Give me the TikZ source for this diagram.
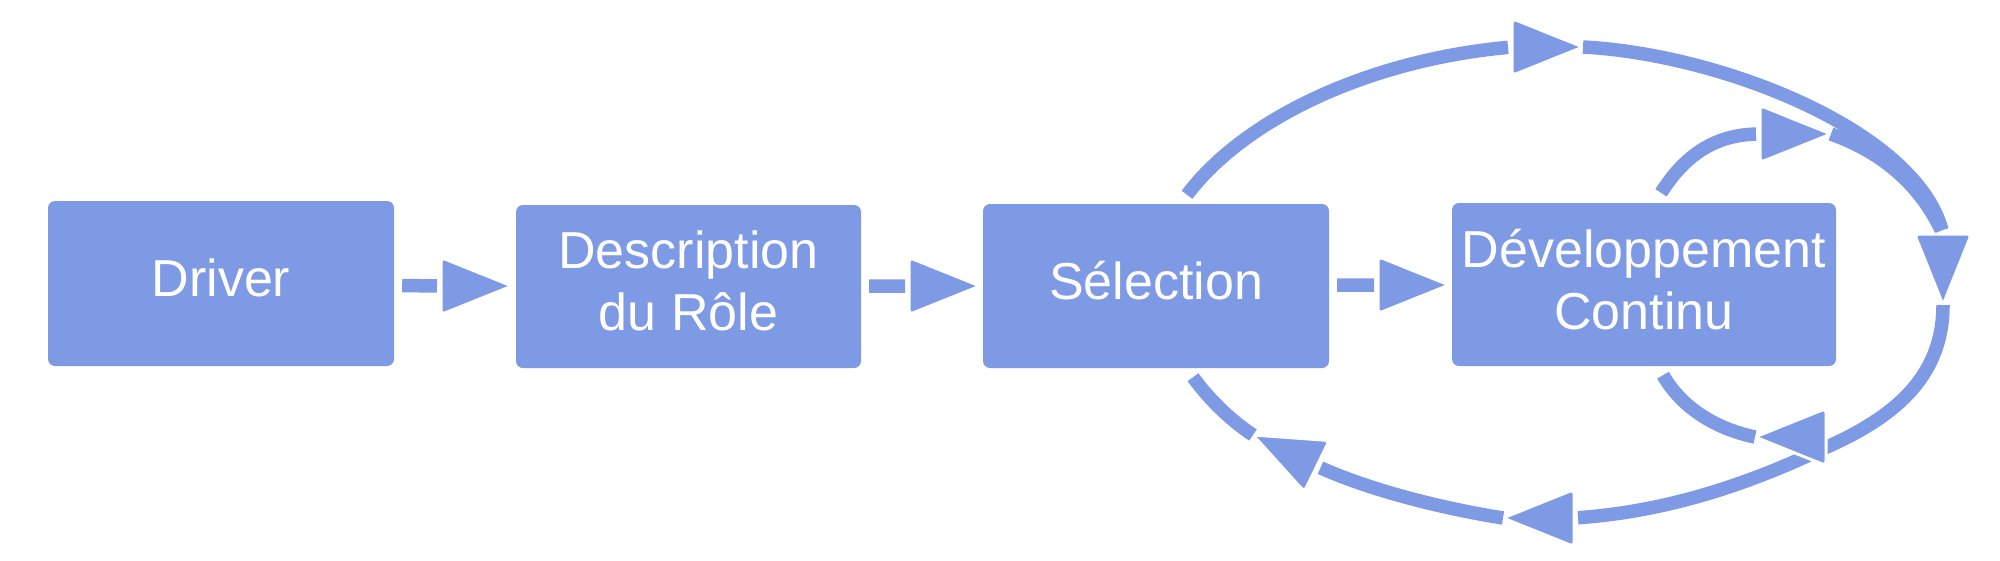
\documentclass[tikz,border=0pt]{standalone}
\usepackage{fontspec}
\setmainfont{Liberation Sans}
\definecolor{myblue}{RGB}{127,154,229}
\pgfdeclarelayer{bg}
\pgfsetlayers{bg,main}
% arrow head: name, x, y, angle (apex at x,y)
\newcommand\myhead[4]{%
  \begin{scope}[shift={(#2,#3)}, rotate=#4]
    \filldraw[headstyle] (-71,0) -- (-71,-28.5) -- (0,0) -- (-71,28.5) -- cycle;
    \coordinate (#1a) at (0,0);
    \coordinate (#1b) at (-71,0);
  \end{scope}}
\begin{document}
\begin{tikzpicture}[x=1pt,y=-1pt,
  box/.style={rectangle, rounded corners=7pt, fill=myblue, text=white,
    font=\fontsize{52}{62}\selectfont, align=center, inner sep=0pt, text depth=11pt},
  headstyle/.style={fill=myblue, draw=white, line width=3pt, rounded corners=4pt},
  conn/.style={draw=myblue, line width=13.5pt},
  toend/.style={shorten >=4pt},
  frombox/.style={shorten <=8pt}]
\useasboundingbox (0,0) rectangle (2000,560);

% boxes
\node[box, minimum width=346pt, minimum height=165pt] (drv) at (221,283.5) {Driver};
\node[box, minimum width=345pt, minimum height=163pt] (desc) at (688.5,286.5) {Description\\du Rôle};
\node[box, minimum width=346pt, minimum height=164pt] (sel) at (1156,286) {Sélection};
\node[box, minimum width=384pt, minimum height=163pt] (dev) at (1644,284.5) {Développement\\Continu};

% arrow heads
\myhead{h1}{512}{286}{0}
\myhead{h2}{980}{286}{0}
\myhead{h3}{1449}{285}{0}
\myhead{h4}{1583}{47}{0}
\myhead{h5}{1831}{134}{0}
\myhead{h6}{1943}{305}{-90}
\myhead{h7}{1755}{437}{180}
\myhead{h8}{1503}{518}{180}
\myhead{h9}{1253}{435}{154}

\begin{pgfonlayer}{bg}
\draw[conn, frombox, toend] (drv) -- (h1b);
\draw[conn, frombox, toend] (desc) -- (h2b);
\draw[conn, frombox, toend] (sel) -- (h3b);
% outer loop
\draw[conn, toend] ([xshift=31pt,yshift=9pt]sel.north) .. controls (1245,118) and (1370,60) .. (h4b);
\draw[conn, toend] (h4a) .. controls (1720,54) and (1915,130) .. (h6b);
\draw[conn, toend] (h6a) .. controls (1943,380) and (1890,420) .. (1820,450)
  .. controls (1740,488) and (1660,512) .. (h8b);
\draw[conn, toend] (h8a) .. controls (1440,508) and (1370,490) .. (h9b);
\draw[conn] (h9a) .. controls (1230,420) and (1208,398) .. ([xshift=37pt,yshift=-9pt]sel.south);
% inner loop
\draw[conn, toend] ([xshift=17pt,yshift=10pt]dev.north) .. controls (1685,155) and (1715,135) .. (h5b);
\draw[conn, toend] (h5a) .. controls (1870,148) and (1915,175) .. (h6b);
\draw[conn] (h7a) .. controls (1712,428) and (1680,405) .. ([xshift=19pt,yshift=-9pt]dev.south);
\end{pgfonlayer}
\end{tikzpicture}
\end{document}
